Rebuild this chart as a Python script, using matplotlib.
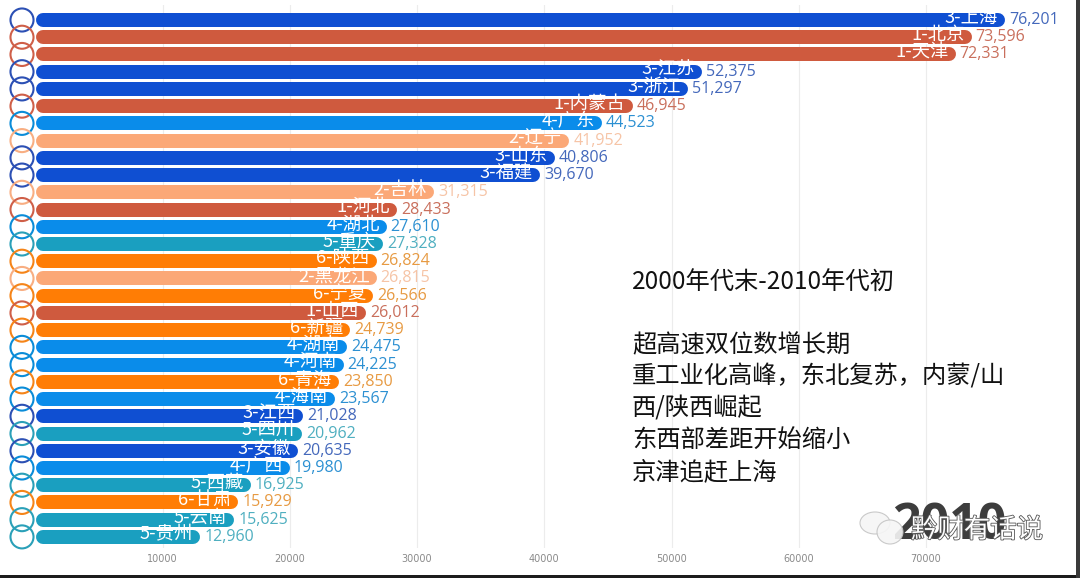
import matplotlib
matplotlib.use('Agg')
import matplotlib.pyplot as plt
import matplotlib.patheffects as pe
from matplotlib.patches import Rectangle, Ellipse

plt.rcParams['font.family'] = ['Noto Sans CJK SC', 'DejaVu Sans']

# -- data
provinces = ['上海', '北京', '天津', '江苏', '浙江', '内蒙古', '广东', '辽宁', '山东', '福建',
             '吉林', '河北', '湖北', '重庆', '陕西', '黑龙江', '宁夏', '山西', '新疆', '湖南',
             '河南', '青海', '海南', '江西', '四川', '安徽', '广西', '西藏', '甘肃', '云南', '贵州']
groups = [3, 1, 1, 3, 3, 1, 4, 2, 3, 3,
          2, 1, 4, 5, 6, 2, 6, 1, 6, 4,
          4, 6, 4, 3, 5, 3, 4, 5, 6, 5, 5]
values = [76201, 73596, 72331, 52375, 51297, 46945, 44523, 41952, 40806, 39670,
          31315, 28433, 27610, 27328, 26824, 26815, 26566, 26012, 24739, 24475,
          24225, 23850, 23567, 21028, 20962, 20635, 19980, 16925, 15929, 15625, 12960]
ticks = [10000, 20000, 30000, 40000, 50000, 60000, 70000]
note_lines = ['2000年代末-2010年代初', '超高速双位数增长期', '重工业化高峰，东北复苏，内蒙/山',
              '西/陕西崛起', '东西部差距开始缩小', '京津追赶上海']
year = '2010'
watermark = '黔财有话说'

bar_colors = {1: '#cf5a3e', 2: '#fba877', 3: '#0f4fd2', 4: '#0a8cea', 5: '#1a9fc0', 6: '#ff7d05'}
text_colors = {1: '#c96f5c', 2: '#f6c4a6', 3: '#4468bb', 4: '#2c90d2', 5: '#4fafc0', 6: '#e79a42'}
ring_colors = {1: '#cf5f48', 2: '#f8ae82', 3: '#2c50b4', 4: '#0a8cd8', 5: '#2aa0b8', 6: '#f58418'}

W, H = 1080, 578
fig = plt.figure(figsize=(W / 100, H / 100), dpi=100)

# axes placed so that 0 is at 35.5px and 10000 is 127.2px wide
left, right, top, bottom = 35.5, 1076, 5, 548
ax = fig.add_axes([left / W, 1 - bottom / H, (right - left) / W, (bottom - top) / H])
px_x = 10000 / 127.2
row = 17.23
ax.set_xlim(0, (right - left) * px_x)
ax.set_ylim((bottom - 20) / row, (top - 20) / row)

for s in ax.spines.values():
    s.set_visible(False)
ax.set_yticks([])
ax.set_xticks(ticks)
ax.set_xticklabels([str(t) for t in ticks], fontsize=7, color='#8a8a8a', family='DejaVu Sans')
ax.tick_params(axis='x', length=0, pad=4)
ax.grid(axis='x', color='#ececec', lw=0.8)
ax.set_axisbelow(True)

cap = 7 * px_x
for i, (name, g, v) in enumerate(zip(provinces, groups, values)):
    ax.hlines(i, cap, v - cap, color=bar_colors[g], lw=14 * 0.72, capstyle='round', zorder=3)
    ax.scatter(-13.5 * px_x, i, s=275, facecolor='none', edgecolor=ring_colors[g],
               lw=1.5, clip_on=False, zorder=4)
    ax.text(v - 7 * px_x, i - 0.13, f'{g}-{name}', ha='right', va='center', color='white',
            fontsize=13.2, fontweight='medium', zorder=5)
    ax.text(v + 4 * px_x, i, f'{v:,}', ha='left', va='center', color=text_colors[g],
            fontsize=11.5, family=['Open Sans', 'DejaVu Sans'], zorder=5)

# -- commentary on the right
note_y = [283, 345, 377, 408, 440, 472]
for line, y in zip(note_lines, note_y):
    fig.text(632 / W, 1 - y / H, line, fontsize=17.5, color='#111111', ha='left', va='center')

# -- year and watermark
fig.text(949 / W, 1 - 526 / H, year, fontsize=36, fontweight='bold', color='#3d3d3d',
         ha='center', va='center', family=['Open Sans', 'DejaVu Sans'])
for cx, cy, rx, ry in [(875, 523, 15, 11), (890, 532, 13, 12)]:
    fig.add_artist(Ellipse((cx / W, 1 - cy / H), 2 * rx / W, 2 * ry / H, facecolor='#f6f6f6',
                           edgecolor='#c4c4c4', lw=0.8, alpha=0.9, zorder=6))
wm = fig.text(977 / W, 1 - 530 / H, watermark, fontsize=19, color='white', ha='center',
              va='center', zorder=7)
wm.set_path_effects([pe.withStroke(linewidth=1.2, foreground='#555555')])

# -- dark edge of the screenshot
fig.add_artist(Rectangle((0, 0), 1, 3.5 / H, facecolor='#1c1c1c', edgecolor='none', zorder=8))
fig.add_artist(Rectangle((1076 / W, 0), 4 / W, 1, facecolor='#3a3a3a', edgecolor='none', zorder=8))

fig.savefig('out.png', dpi=100)
